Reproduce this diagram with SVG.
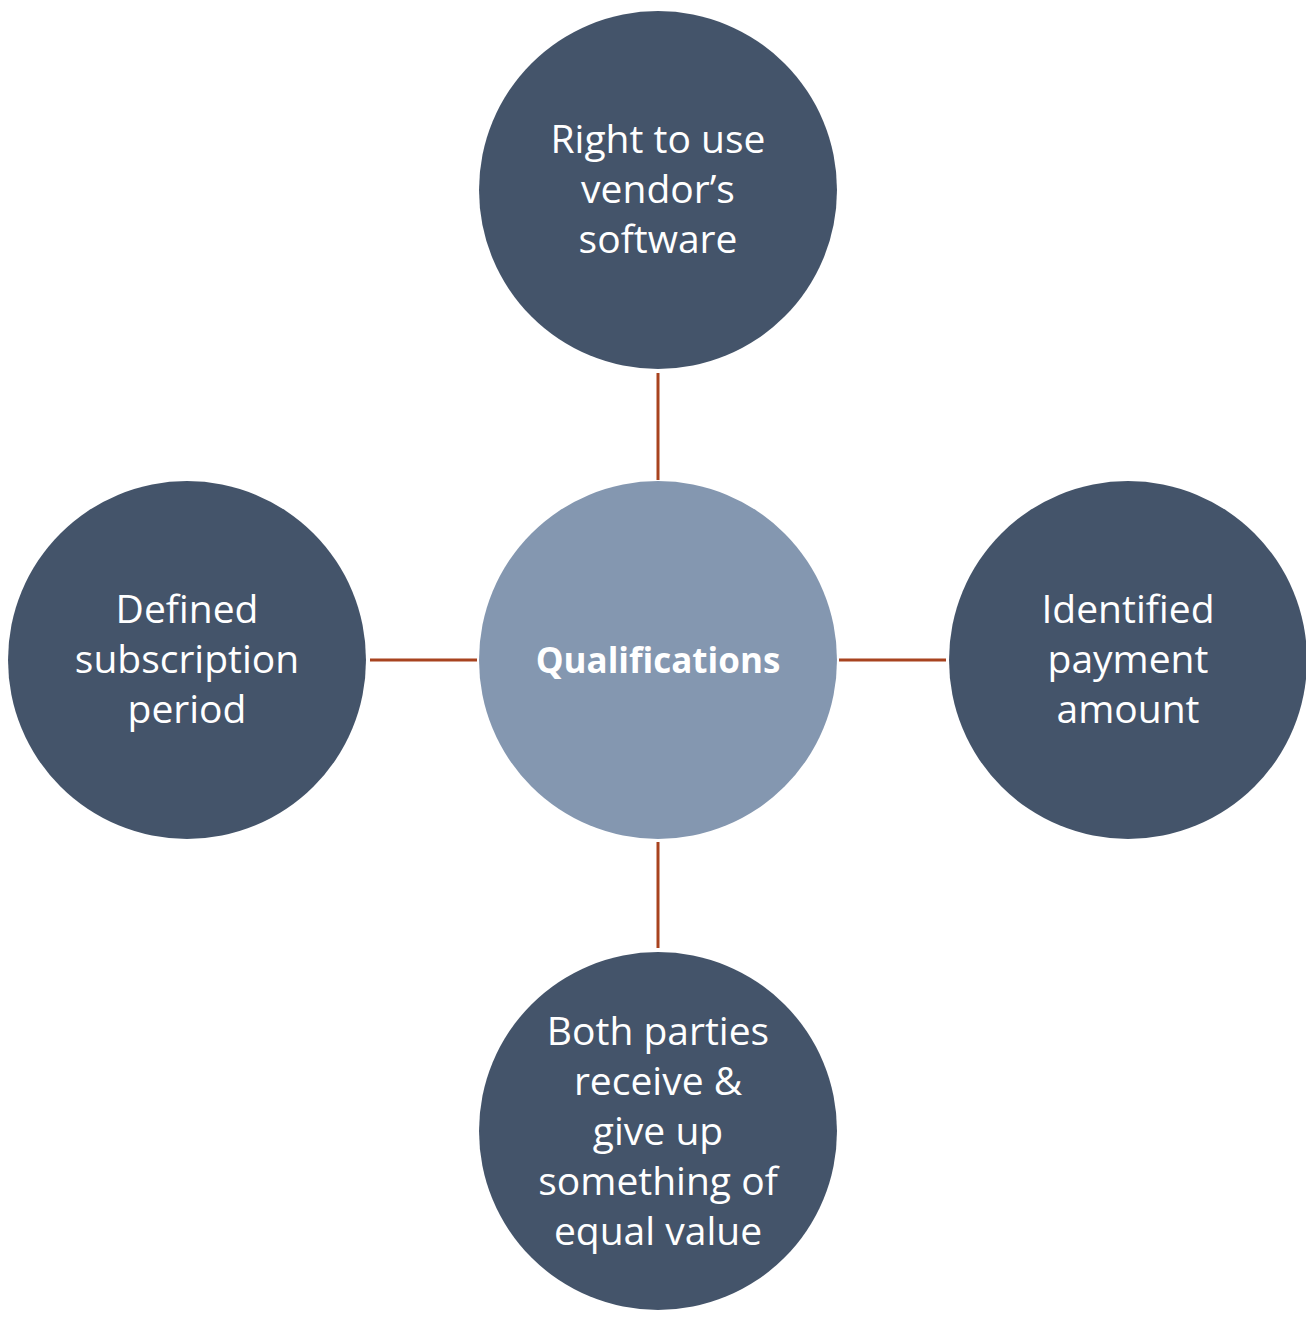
<svg xmlns="http://www.w3.org/2000/svg" width="1306" height="1317" viewBox="0 0 1306 1317">
<style>
.outer{fill:#44546A}
.center{fill:#8497B0}
.conn line{stroke:#A8431F;stroke-width:3}
text{font-family:"Open Sans","Liberation Sans",sans-serif;font-size:39px;fill:#FFFFFF;text-anchor:middle}
.bold{font-weight:bold;font-size:35px}
</style>
<rect width="1306" height="1317" fill="#FFFFFF"/>
<g id="connectors" class="conn">
<line x1="658" y1="373" x2="658" y2="480"/>
<line x1="658" y1="842" x2="658" y2="948"/>
<line x1="370" y1="660" x2="477" y2="660"/>
<line x1="839" y1="660" x2="946" y2="660"/>
</g>
<g id="center">
<circle class="center" cx="658" cy="660" r="179"/>
<text class="bold" x="658" y="673">Qualifications</text>
</g>
<g id="top">
<circle class="outer" cx="658" cy="190" r="179"/>
<text x="658" y="153">Right to use</text>
<text x="658" y="203">vendor’s</text>
<text x="658" y="253">software</text>
</g>
<g id="left">
<circle class="outer" cx="187" cy="660" r="179"/>
<text x="187" y="623">Defined</text>
<text x="187" y="673">subscription</text>
<text x="187" y="723">period</text>
</g>
<g id="right">
<circle class="outer" cx="1128" cy="660" r="179"/>
<text x="1128" y="623">Identified</text>
<text x="1128" y="673">payment</text>
<text x="1128" y="723">amount</text>
</g>
<g id="bottom">
<circle class="outer" cx="658" cy="1131" r="179"/>
<text x="658" y="1045">Both parties</text>
<text x="658" y="1095">receive &amp;</text>
<text x="658" y="1145">give up</text>
<text x="658" y="1195">something of</text>
<text x="658" y="1245">equal value</text>
</g>
</svg>
